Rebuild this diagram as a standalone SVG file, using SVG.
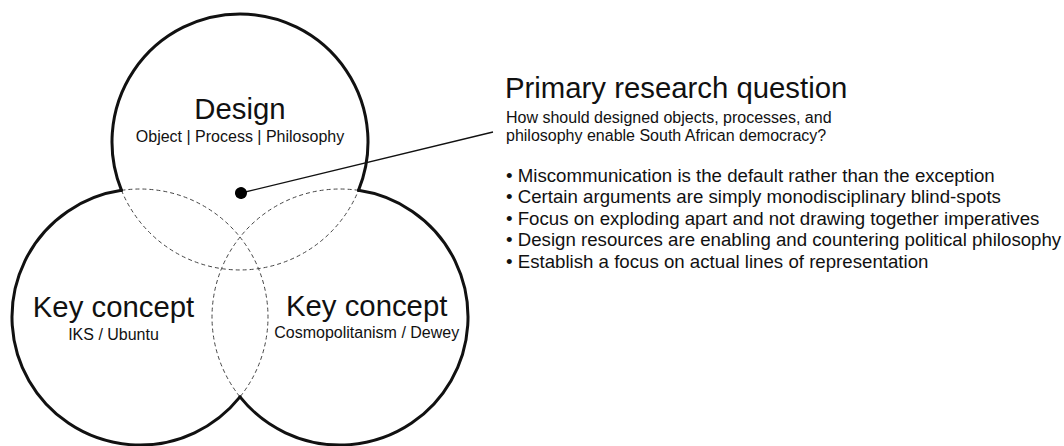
<svg xmlns="http://www.w3.org/2000/svg" width="1064" height="446" viewBox="0 0 1064 446">
  <defs>
    <style>
      .outer { fill: none; stroke: #111; stroke-width: 3; stroke-linecap: round; stroke-linejoin: round; }
      .inner { fill: none; stroke: #444; stroke-width: 1; stroke-dasharray: 4 3; }
      .title { font-family: "Liberation Sans", Arial, sans-serif; font-size: 29.33px; fill: #111; }
      .sub { font-family: "Liberation Sans", Arial, sans-serif; font-size: 16px; fill: #111; }
      .bullet { font-family: "Liberation Sans", Arial, sans-serif; font-size: 18.67px; fill: #111; }
      .mid { text-anchor: middle; }
      .conn { fill: none; stroke: #111; stroke-width: 1.3; }
    </style>
    <marker id="dot" viewBox="0 0 12 12" refX="6" refY="6" markerWidth="12" markerHeight="12" markerUnits="userSpaceOnUse" orient="auto">
      <circle cx="6" cy="6" r="6" fill="#000"/>
    </marker>
  </defs>
  <rect width="1064" height="446" fill="#fff"/>

  <g id="node-design">
    <path class="inner" d="M121.5,190.35 A128,128 0 0 0 358.5,190.35"/>
    <path class="outer" d="M121.5,190.35 A128,128 0 1 1 358.5,190.35"/>
    <text class="title mid" x="240" y="119">Design</text>
    <text class="sub mid" x="240" y="142">Object | Process | Philosophy</text>
  </g>

  <g id="node-key-concept-left">
    <path class="inner" d="M121.5,190.35 A128,128 0 0 1 240,396.9"/>
    <path class="outer" d="M240,396.9 A128,128 0 1 1 121.5,190.35"/>
    <text class="title mid" x="113.5" y="317">Key concept</text>
    <text class="sub mid" x="113.5" y="340">IKS / Ubuntu</text>
  </g>

  <g id="node-key-concept-right">
    <path class="inner" d="M358.5,190.35 A128,128 0 0 0 240,396.9"/>
    <path class="outer" d="M358.5,190.35 A128,128 0 1 1 240,396.9"/>
    <text class="title mid" x="366.7" y="316">Key concept</text>
    <text class="sub mid" x="366.7" y="338">Cosmopolitanism / Dewey</text>
  </g>

  <g id="node-question">
    <text class="title" x="505" y="98">Primary research question</text>
    <text class="sub" x="506" y="123">How should designed objects, processes, and</text>
    <text class="sub" x="506" y="141">philosophy enable South African democracy?</text>
    <text class="bullet" x="506" y="181.5">• Miscommunication is the default rather than the exception</text>
    <text class="bullet" x="506" y="203">• Certain arguments are simply monodisciplinary blind-spots</text>
    <text class="bullet" x="506" y="224.5">• Focus on exploding apart and not drawing together imperatives</text>
    <text class="bullet" x="506" y="246">• Design resources are enabling and countering political philosophy</text>
    <text class="bullet" x="506" y="267.5">• Establish a focus on actual lines of representation</text>
  </g>

  <g id="connectors">
    <line class="conn" x1="241" y1="193" x2="493" y2="132" marker-start="url(#dot)"/>
  </g>
</svg>
